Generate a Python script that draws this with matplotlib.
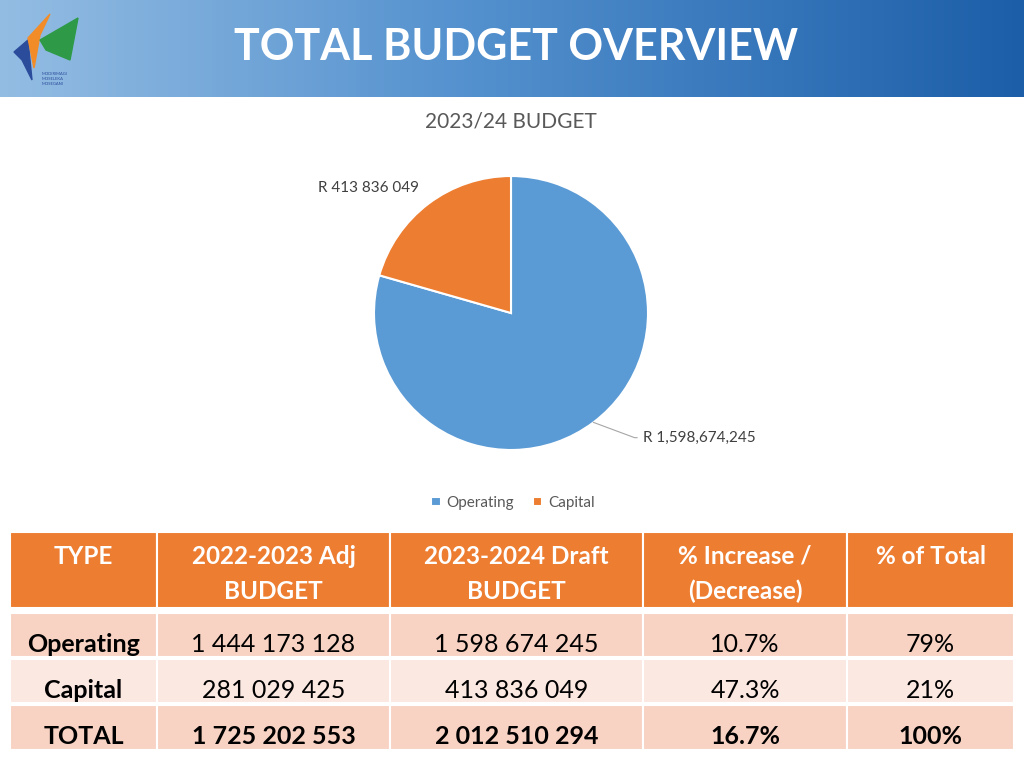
import numpy as np
import matplotlib.pyplot as plt
from matplotlib.patches import Rectangle, Polygon

plt.rcParams['font.family'] = ['Lato', 'DejaVu Sans']

TITLE = "TOTAL BUDGET OVERVIEW"
PIE_TITLE = "2023/24 BUDGET"
categories = ["Operating", "Capital"]
budget_2324 = [1598674245, 413836049]
pie_labels = ["R 1,598,674,245", "R 413 836 049"]
pie_colors = ["#5B9BD5", "#ED7D31"]

header = ["TYPE", "2022-2023 Adj\nBUDGET", "2023-2024 Draft\nBUDGET",
          "% Increase /\n(Decrease)", "% of Total"]
row_types = ["Operating", "Capital", "TOTAL"]
adj_2223 = ["1 444 173 128", "281 029 425", "1 725 202 553"]
draft_2324 = ["1 598 674 245", "413 836 049", "2 012 510 294"]
pct_change = ["10.7%", "47.3%", "16.7%"]
pct_total = ["79%", "21%", "100%"]

W, H = 1024, 768
fig = plt.figure(figsize=(W / 100, H / 100), dpi=100)

# page axes in pixel units (y down)
page = fig.add_axes([0, 0, 1, 1])
page.set_xlim(0, W)
page.set_ylim(H, 0)
page.axis("off")

# banner
grad = np.linspace(0, 1, 256)
cols = np.array([[0.58, 0.74, 0.89], [0.33, 0.57, 0.81], [0.11, 0.37, 0.66]])
xs = np.array([0, 0.45, 1])
img = np.stack([np.interp(grad, xs, cols[:, i]) for i in range(3)], axis=-1)
img = np.tile(img[None, :, :], (20, 1, 1))
page.imshow(img, extent=[0, W, 97, 0], aspect="auto", zorder=0)
page.text(516, 47, TITLE, color="white", fontsize=31, fontweight="bold",
          ha="center", va="center", zorder=2)

# simple logo
page.add_patch(Polygon([[14, 52], [28, 40], [32, 80], [22, 60]], color="#2B4C9B", zorder=2))
page.add_patch(Polygon([[28, 38], [50, 14], [40, 35], [34, 68]], color="#F28C28", zorder=2))
page.add_patch(Polygon([[40, 40], [78, 18], [70, 60], [46, 50]], color="#2E9A47", zorder=2))
page.text(42, 79, "MODIRIMAGI\nMOSELEKA\nMOSEGANI", fontsize=3, color="#2B4C9B",
          ha="left", va="center", zorder=2)

# pie title
page.text(511, 122, PIE_TITLE, color="#595959", fontsize=15, ha="center", va="center")

# pie
cx, cy, r = 511, 313, 137
pax = fig.add_axes([(cx - r) / W, (H - cy - r) / H, 2 * r / W, 2 * r / H])
wedges, _ = pax.pie(budget_2324, colors=pie_colors, startangle=90, counterclock=False,
                    wedgeprops=dict(edgecolor="white", linewidth=1.5))
pax.set_xlim(-1, 1)
pax.set_ylim(-1, 1)
pax.set_aspect("equal")

# data labels
w_op = wedges[0]
mid = np.deg2rad((w_op.theta1 + w_op.theta2) / 2)
ex, ey = np.cos(mid), np.sin(mid)
pax.plot([ex, ex + 0.30, 0.92], [ey, -0.91, -0.91], color="#A6A6A6", lw=0.8, clip_on=False)
pax.text(0.96, -0.91, pie_labels[0], fontsize=11, color="#404040", ha="left",
         va="center", clip_on=False)
pax.text(-1.04, 0.91, pie_labels[1], fontsize=11, color="#404040", ha="center",
         va="center", clip_on=False)

# legend
leg = fig.legend(wedges, categories, loc="center", bbox_to_anchor=(513 / W, 1 - 503 / H),
                 ncol=2, frameon=False, fontsize=11, handlelength=0.6, handleheight=0.6,
                 columnspacing=1.2, handletextpad=0.4, labelcolor="#595959")

# table
col_x = [10, 157, 390, 643, 847, 1014]
head_y = (532, 608)
row_y = [(613, 657), (659, 703), (705, 750)]
row_colors = ["#F8D3C4", "#FBE8E1", "#F8D3C4"]

for i in range(5):
    x0, x1 = col_x[i], col_x[i + 1]
    page.add_patch(Rectangle((x0, head_y[0]), x1 - x0, head_y[1] - head_y[0],
                             facecolor="#ED7D31", edgecolor="white", lw=1.5))
    page.text((x0 + x1) / 2, 557 if "\n" not in header[i] else 574, header[i],
              color="white", fontsize=17.5, fontweight="bold", ha="center",
              va="center", linespacing=1.6)

rows = list(zip(row_types, adj_2223, draft_2324, pct_change, pct_total))
for j, row in enumerate(rows):
    y0, y1 = row_y[j]
    for i, val in enumerate(row):
        x0, x1 = col_x[i], col_x[i + 1]
        page.add_patch(Rectangle((x0, y0), x1 - x0, y1 - y0,
                                 facecolor=row_colors[j], edgecolor="white", lw=1.5))
        bold = (j == 2) or (i == 0)
        page.text((x0 + x1) / 2, (y0 + y1) / 2 + 9, val, color="black", fontsize=18,
                  fontweight="bold" if bold else "normal", ha="center", va="center")

fig.savefig("out.png", dpi=100)
